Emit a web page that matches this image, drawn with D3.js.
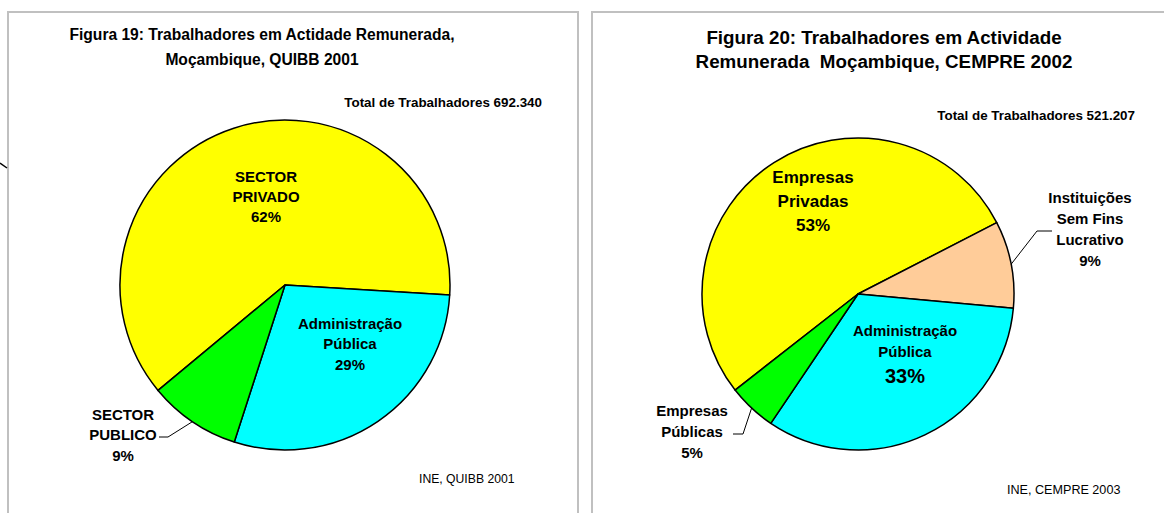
<!DOCTYPE html>
<html>
<head>
<meta charset="utf-8">
<script src="https://cdn.jsdelivr.net/npm/d3@7"></script>
<style>body{margin:0;background:#fff;}</style>
</head>
<body>
<svg width="1164" height="513" font-family="'Liberation Sans', Arial, sans-serif"></svg>
<script>

// Figura 19 - QUIBB 2001
var quibbNames = [["SECTOR", "PRIVADO"], ["Administração", "Pública"], ["SECTOR", "PUBLICO"]];
var quibbValues = [62, 29, 9];
var quibbColors = ["#ffff00", "#00ffff", "#00ff00"];

// Figura 20 - CEMPRE 2002
var cempreNames = [["Empresas", "Privadas"], ["Instituições", "Sem Fins", "Lucrativo"], ["Administração", "Pública"], ["Empresas", "Públicas"]];
var cempreValues = [53, 9, 33, 5];
var cempreColors = ["#ffff00", "#ffcc99", "#00ffff", "#00ff00"];

var svg = d3.select("svg");

// gray frame lines
svg.append("rect").attr("x", 8).attr("y", 12).attr("width", 570).attr("height", 520)
    .attr("fill", "none").attr("stroke", "#c0c0c0").attr("stroke-width", 2);
svg.append("rect").attr("x", 592).attr("y", 12).attr("width", 600).attr("height", 520)
    .attr("fill", "none").attr("stroke", "#c0c0c0").attr("stroke-width", 2);
// stray stroke at the left edge
svg.append("line").attr("x1", 0).attr("y1", 163).attr("x2", 7).attr("y2", 168)
    .attr("stroke", "#000").attr("stroke-width", 1.5);

function drawPie(cfg) {
  var g = svg.append("g").attr("transform", "translate(" + cfg.cx + "," + cfg.cy + ")");

  var data = cfg.values.map(function(v, i) { return {value: v, name: cfg.names[i], color: cfg.colors[i], lay: cfg.labels[i]}; });

  var pie = d3.pie().sort(null).value(function(d) { return d.value; })
      .startAngle(cfg.start * Math.PI / 180)
      .endAngle(cfg.start * Math.PI / 180 + 2 * Math.PI);
  var arc = d3.arc().innerRadius(0).outerRadius(cfg.r);
  var edge = d3.arc().innerRadius(cfg.r).outerRadius(cfg.r);

  var arcs = pie(data);

  g.selectAll("path.slice")
    .data(arcs)
    .enter().append("path")
      .attr("class", "slice")
      .attr("d", arc)
      .attr("fill", function(d) { return d.data.color; })
      .attr("stroke", "#000")
      .attr("stroke-width", 1.5)
      .attr("stroke-linejoin", "round");

  arcs.forEach(function(d) {
    var lay = d.data.lay;
    var lines = d.data.name.concat([d.data.value + "%"]);
    var t = g.append("text")
        .attr("text-anchor", "middle")
        .attr("font-weight", "bold")
        .attr("fill", "#000");
    var y = lay.dy;
    lines.forEach(function(s, i) {
      if (i > 0) y += lay.gaps[i - 1];
      t.append("tspan").attr("x", lay.dx).attr("y", y).attr("font-size", lay.sizes[i]).text(s);
    });
    if (lay.leader) {
      var pts = lay.leader.concat([edge.centroid(d)]);
      g.append("path")
        .attr("d", d3.line()(pts))
        .attr("fill", "none")
        .attr("stroke", "#000")
        .attr("stroke-width", 1);
    }
  });

  // titles and notes
  cfg.title.forEach(function(s, i) {
    svg.append("text").attr("x", cfg.titleX).attr("y", cfg.titleY + i * cfg.titleGap)
      .attr("text-anchor", "middle").attr("font-weight", "bold").attr("font-size", cfg.titleSize)
      .style("white-space", "pre")
      .text(s);
  });
  svg.append("text").attr("x", cfg.totalX).attr("y", cfg.totalY)
    .attr("text-anchor", "end").attr("font-weight", "bold").attr("font-size", 13.4)
    .text(cfg.total);
  svg.append("text").attr("x", cfg.srcX).attr("y", cfg.srcY)
    .attr("font-size", cfg.srcSize).text(cfg.source);
}

drawPie({
  cx: 285, cy: 285, r: 165, start: -129.7,
  values: quibbValues, names: quibbNames, colors: quibbColors,
  labels: [
    {dx: -19, dy: -103, sizes: [15, 15, 15], gaps: [20, 20]},
    {dx: 65, dy: 44, sizes: [15, 15, 15], gaps: [20, 21]},
    {dx: -162, dy: 135, sizes: [15, 15, 15], gaps: [20, 21], leader: [[-126, 152], [-117, 152]]}
  ],
  title: ["Figura 19: Trabalhadores em Actidade Remunerada,", "Moçambique, QUIBB 2001"],
  titleX: 262, titleY: 40, titleSize: 15.6, titleGap: 25,
  total: "Total de Trabalhadores 692.340", totalX: 542, totalY: 107,
  source: "INE, QUIBB 2001", srcX: 419, srcY: 483, srcSize: 12.2
});

drawPie({
  cx: 858, cy: 294, r: 156, start: -128,
  values: cempreValues, names: cempreNames, colors: cempreColors,
  labels: [
    {dx: -45, dy: -111, sizes: [17, 17, 17], gaps: [24, 24]},
    {dx: 232, dy: -91, sizes: [15, 15, 15, 15], gaps: [21, 21, 21], leader: [[194, -63], [179, -63]]},
    {dx: 47, dy: 42, sizes: [15, 15, 20], gaps: [21, 26]},
    {dx: -166, dy: 122, sizes: [15, 15, 15], gaps: [21, 21], leader: [[-125, 140], [-115, 140]]}
  ],
  title: ["Figura 20: Trabalhadores em Actividade", "Remunerada  Moçambique, CEMPRE 2002"],
  titleX: 884, titleY: 44, titleSize: 18.8, titleGap: 24,
  total: "Total de Trabalhadores 521.207", totalX: 1135, totalY: 120,
  source: "INE, CEMPRE 2003", srcX: 1007, srcY: 494, srcSize: 12.6
});

</script>
</body>
</html>
